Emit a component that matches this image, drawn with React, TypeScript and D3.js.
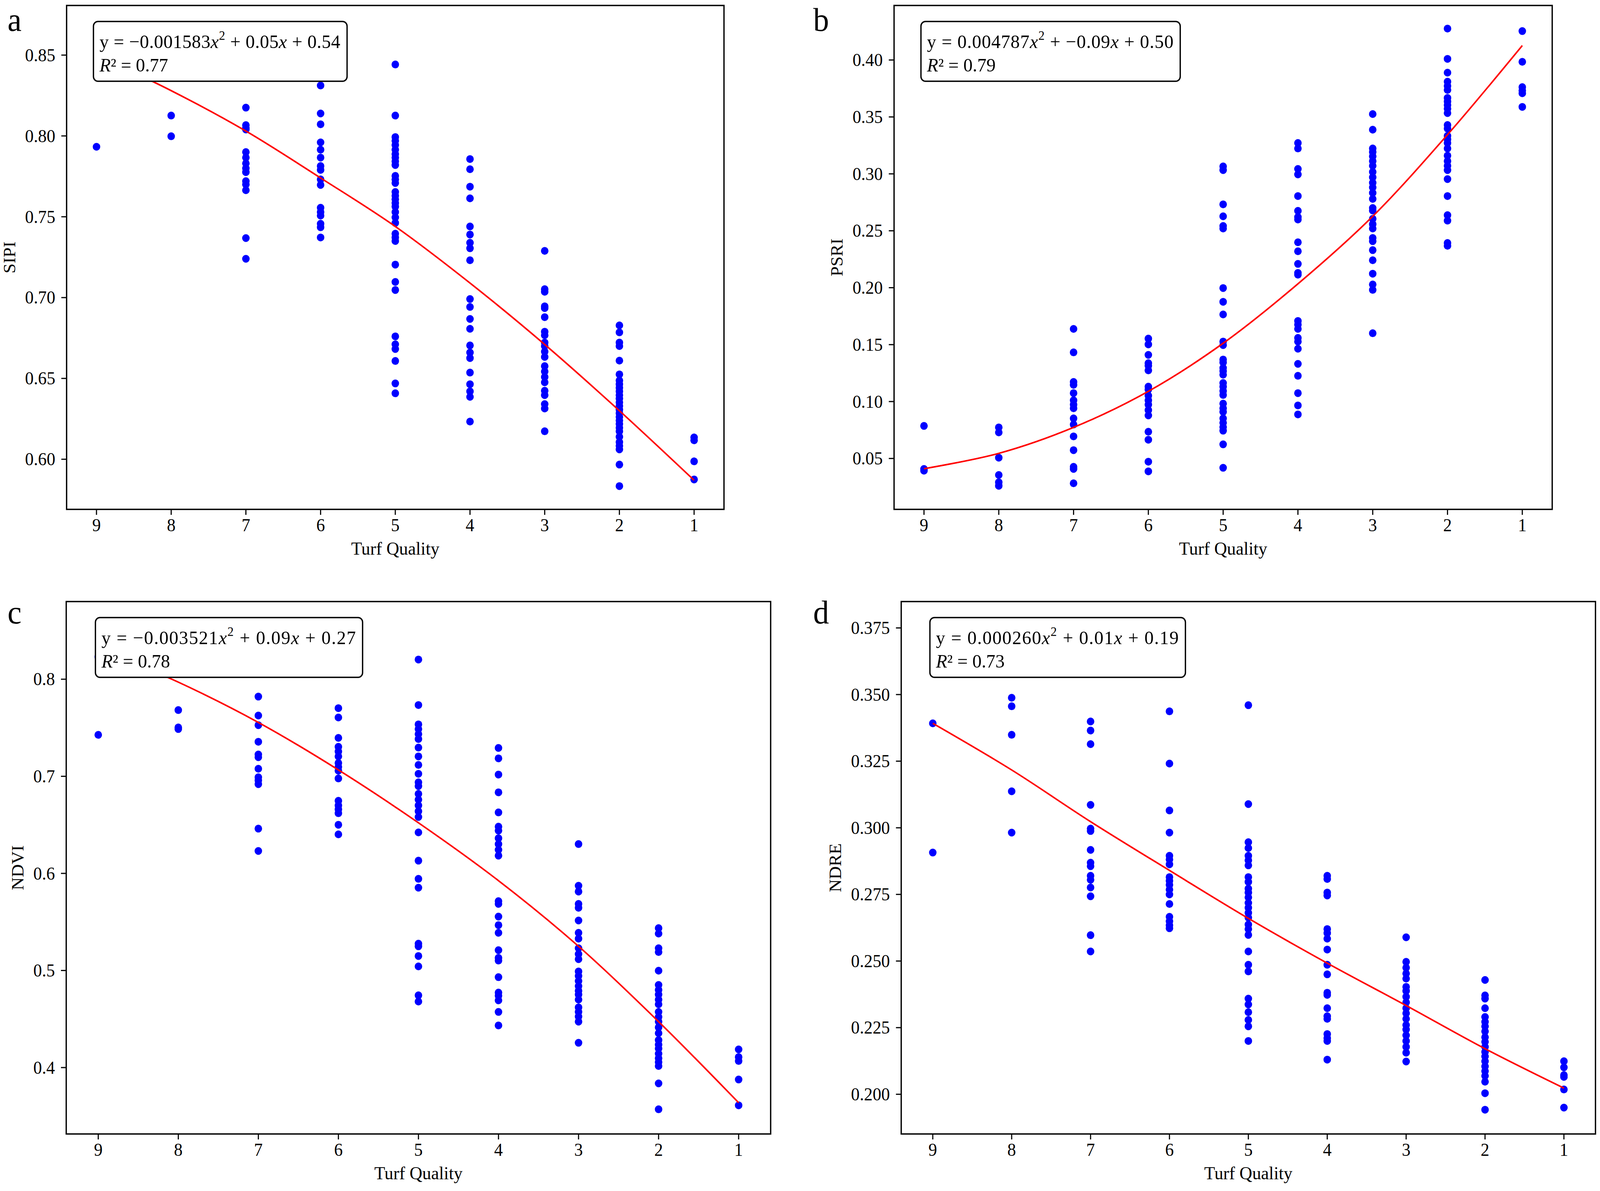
import * as d3 from "d3";
import React from "react";

// turf quality classes, shown high to low
const quality = [9, 8, 7, 6, 5, 4, 3, 2, 1];

// SIPI readings per quality class (same order as `quality`)
const sipi: number[][] = [
  [0.7933],
  [0.836, 0.8126, 0.7998],
  [0.8175, 0.8067, 0.805, 0.804, 0.79, 0.7866, 0.783, 0.78, 0.7776, 0.772, 0.77, 0.7664, 0.7368, 0.724],
  [0.8312, 0.8139, 0.8072, 0.796, 0.7915, 0.7866, 0.7814, 0.779, 0.7731, 0.7697, 0.7556, 0.7529, 0.7507, 0.7457, 0.7435, 0.7372],
  [0.8442, 0.8126, 0.7993, 0.797, 0.7944, 0.7915, 0.7888, 0.7866, 0.7843, 0.782, 0.7753, 0.7731, 0.7709, 0.7653, 0.763, 0.7608, 0.7585, 0.7563, 0.7529, 0.7496, 0.7462, 0.7395, 0.7372, 0.735, 0.7204, 0.7097, 0.7047, 0.676, 0.6711, 0.6682, 0.6608, 0.6469, 0.6408],
  [0.7857, 0.7794, 0.7686, 0.7614, 0.744, 0.739, 0.7339, 0.7305, 0.7231, 0.6991, 0.6942, 0.6868, 0.6807, 0.6704, 0.666, 0.6626, 0.6536, 0.6464, 0.642, 0.6386, 0.6233],
  [0.7289, 0.7052, 0.7036, 0.6946, 0.6935, 0.6879, 0.6789, 0.6767, 0.6722, 0.67, 0.6666, 0.6633, 0.6576, 0.6543, 0.6509, 0.6476, 0.6424, 0.6397, 0.6341, 0.6314, 0.6173],
  [0.6828, 0.6785, 0.6722, 0.67, 0.661, 0.6525, 0.6487, 0.6464, 0.6442, 0.642, 0.6397, 0.6375, 0.6352, 0.633, 0.6307, 0.6285, 0.6262, 0.624, 0.6218, 0.6195, 0.6173, 0.6139, 0.6106, 0.6083, 0.6061, 0.5967, 0.5834],
  [0.6135, 0.6117, 0.5987, 0.5875],
];
const sipiFit = [0.85, 0.828, 0.803, 0.774, 0.744, 0.709, 0.671, 0.63, 0.587];
const sipiTicks = [0.6, 0.65, 0.7, 0.75, 0.8, 0.85];

const psri: number[][] = [
  [0.0786, 0.0408, 0.0393],
  [0.0773, 0.0729, 0.0507, 0.0355, 0.0291, 0.026],
  [0.1638, 0.1432, 0.1172, 0.1147, 0.1074, 0.1011, 0.0973, 0.0941, 0.0852, 0.0798, 0.0694, 0.0573, 0.0427, 0.0408, 0.0282],
  [0.1553, 0.1502, 0.141, 0.1337, 0.1315, 0.1274, 0.1131, 0.1106, 0.1052, 0.1011, 0.0973, 0.0925, 0.0878, 0.0735, 0.0665, 0.0472, 0.0387],
  [0.3065, 0.3033, 0.2732, 0.2627, 0.2542, 0.252, 0.1997, 0.1876, 0.1765, 0.1527, 0.1496, 0.1369, 0.1344, 0.1296, 0.1268, 0.1236, 0.1163, 0.1131, 0.1093, 0.1058, 0.0982, 0.0941, 0.0909, 0.0852, 0.0814, 0.0776, 0.0744, 0.0624, 0.0418],
  [0.3271, 0.3223, 0.3043, 0.2995, 0.2805, 0.2675, 0.2621, 0.2599, 0.2399, 0.232, 0.2209, 0.213, 0.2114, 0.1708, 0.1676, 0.1638, 0.1559, 0.1527, 0.1464, 0.1331, 0.1226, 0.1074, 0.0966, 0.0887],
  [0.3525, 0.3388, 0.3223, 0.3192, 0.3154, 0.3112, 0.3071, 0.3017, 0.297, 0.2922, 0.2881, 0.2833, 0.278, 0.27, 0.2678, 0.2605, 0.2558, 0.252, 0.2437, 0.2409, 0.233, 0.2241, 0.2123, 0.2028, 0.1981, 0.16],
  [0.4276, 0.401, 0.3889, 0.381, 0.3772, 0.3737, 0.3667, 0.3635, 0.3604, 0.3572, 0.3534, 0.3429, 0.3398, 0.3334, 0.3303, 0.3271, 0.3223, 0.316, 0.3112, 0.3071, 0.3033, 0.2954, 0.2805, 0.2637, 0.2589, 0.2393, 0.2368],
  [0.4254, 0.3984, 0.3762, 0.3731, 0.3708, 0.3588],
];
const psriFit = [0.041, 0.0545, 0.0773, 0.109, 0.1512, 0.2034, 0.2627, 0.3344, 0.4127];
const psriTicks = [0.05, 0.1, 0.15, 0.2, 0.25, 0.3, 0.35, 0.4];

const ndvi: number[][] = [
  [0.823, 0.7427],
  [0.7682, 0.7503, 0.7487],
  [0.7821, 0.7626, 0.7527, 0.7356, 0.7225, 0.7197, 0.7078, 0.699, 0.6958, 0.6919, 0.6461, 0.6231],
  [0.7702, 0.7606, 0.7396, 0.7304, 0.7256, 0.7205, 0.7137, 0.7097, 0.7058, 0.6978, 0.6748, 0.67, 0.666, 0.662, 0.6501, 0.6402],
  [0.8203, 0.7734, 0.7535, 0.7487, 0.7435, 0.7384, 0.7296, 0.7205, 0.7117, 0.7026, 0.6938, 0.6899, 0.6819, 0.676, 0.67, 0.664, 0.6581, 0.6422, 0.6131, 0.5944, 0.5853, 0.5276, 0.5249, 0.5149, 0.5042, 0.4744, 0.468],
  [0.7292, 0.7185, 0.7018, 0.6835, 0.6628, 0.6481, 0.6441, 0.6362, 0.6302, 0.6243, 0.6183, 0.5714, 0.5686, 0.5555, 0.5467, 0.5388, 0.5209, 0.513, 0.5102, 0.4931, 0.4772, 0.474, 0.4692, 0.4573, 0.4434],
  [0.6302, 0.5873, 0.5813, 0.5686, 0.5646, 0.5515, 0.5388, 0.5328, 0.5229, 0.5169, 0.5117, 0.499, 0.4943, 0.4891, 0.4839, 0.4791, 0.4752, 0.47, 0.462, 0.4573, 0.4525, 0.4473, 0.4255],
  [0.5436, 0.538, 0.5229, 0.519, 0.4998, 0.4851, 0.48, 0.4752, 0.47, 0.4652, 0.4573, 0.4521, 0.4473, 0.4414, 0.4354, 0.4283, 0.4235, 0.4195, 0.4143, 0.4096, 0.4056, 0.4016, 0.3837, 0.357],
  [0.4187, 0.4108, 0.4068, 0.3877, 0.3611],
];
const ndviFit = [0.832, 0.797, 0.7555, 0.7066, 0.6521, 0.5925, 0.5249, 0.4473, 0.3638];
const ndviTicks = [0.4, 0.5, 0.6, 0.7, 0.8];

const ndre: number[][] = [
  [0.3392, 0.2907],
  [0.3488, 0.3456, 0.3349, 0.3137, 0.2982],
  [0.3399, 0.3365, 0.3314, 0.3086, 0.2997, 0.2988, 0.2917, 0.2869, 0.2856, 0.282, 0.2805, 0.2776, 0.2743, 0.2597, 0.2536],
  [0.3437, 0.3241, 0.3065, 0.2982, 0.2895, 0.2881, 0.2863, 0.2815, 0.2801, 0.2786, 0.2768, 0.275, 0.2714, 0.2666, 0.2649, 0.2634, 0.2623],
  [0.346, 0.3089, 0.2946, 0.2924, 0.2895, 0.2878, 0.2859, 0.2815, 0.2797, 0.2772, 0.2757, 0.2739, 0.2718, 0.27, 0.2681, 0.2663, 0.2637, 0.262, 0.2598, 0.2536, 0.2486, 0.2461, 0.2359, 0.2337, 0.2308, 0.2279, 0.2255, 0.22],
  [0.282, 0.2808, 0.2757, 0.2746, 0.262, 0.2605, 0.2584, 0.2543, 0.2486, 0.245, 0.2381, 0.2373, 0.2323, 0.2293, 0.2283, 0.2226, 0.2211, 0.22, 0.213],
  [0.2589, 0.2497, 0.2475, 0.2453, 0.2434, 0.2403, 0.2388, 0.2366, 0.2345, 0.2323, 0.2304, 0.2283, 0.226, 0.2243, 0.2221, 0.22, 0.2178, 0.2156, 0.2123],
  [0.2429, 0.2371, 0.2359, 0.2323, 0.229, 0.2272, 0.2255, 0.2236, 0.2214, 0.2197, 0.2178, 0.2159, 0.2142, 0.2124, 0.2105, 0.2087, 0.2069, 0.2047, 0.2004, 0.1942],
  [0.2124, 0.2101, 0.2072, 0.2065, 0.2018, 0.195],
];
const ndreFit = [0.3392, 0.3217, 0.3023, 0.284, 0.266, 0.2492, 0.2333, 0.2171, 0.2023];
const ndreTicks = [0.2, 0.225, 0.25, 0.275, 0.3, 0.325, 0.35, 0.375];

const FONT = "'Liberation Serif', 'Times New Roman', serif";
const W = 4252;
const H = 3049;

type Panel = {
  letter: string;
  yLabel: string;
  values: number[][];
  fit: number[];
  ticks: number[];
  fmt: string;
  yDomain: [number, number];
  frame: { l: number; r: number; t: number; b: number };
  letterPos: [number, number];
  eqWidth: number;
  coefA: string;
  coefB: string;
  coefC: string;
  r2: string;
};

const panels: Panel[] = [
  { letter: "a", yLabel: "SIPI", values: sipi, fit: sipiFit, ticks: sipiTicks, fmt: ".2f",
    yDomain: [0.569, 0.8807], frame: { l: 177, r: 1924, t: 14, b: 1304 }, letterPos: [20, 79], eqWidth: 640,
    coefA: "\u22120.001583", coefB: "0.05", coefC: "0.54", r2: "0.77" },
  { letter: "b", yLabel: "PSRI", values: psri, fit: psriFit, ticks: psriTicks, fmt: ".2f",
    yDomain: [0.0053, 0.4479], frame: { l: 2376, r: 4125, t: 14, b: 1304 }, letterPos: [2161, 79], eqWidth: 655,
    coefA: "0.004787", coefB: "\u22120.09", coefC: "0.50", r2: "0.79" },
  { letter: "c", yLabel: "NDVI", values: ndvi, fit: ndviFit, ticks: ndviTicks, fmt: ".1f",
    yDomain: [0.3316, 0.88], frame: { l: 176, r: 2048, t: 1540, b: 2903 }, letterPos: [20, 1596], eqWidth: 676,
    coefA: "\u22120.003521", coefB: "0.09", coefC: "0.27", r2: "0.78" },
  { letter: "d", yLabel: "NDRE", values: ndre, fit: ndreFit, ticks: ndreTicks, fmt: ".3f",
    yDomain: [0.1851, 0.3849], frame: { l: 2395, r: 4240, t: 1540, b: 2903 }, letterPos: [2161, 1596], eqWidth: 645,
    coefA: "0.000260", coefB: "0.01", coefC: "0.19", r2: "0.73" },
];

const tickFont = 46;

function ScatterPanel({ p }: { p: Panel }) {
  const { l, r, t, b } = p.frame;
  const x = d3.scaleLinear().domain([9.4, 0.6]).range([l, r]);
  const y = d3.scaleLinear().domain(p.yDomain).range([b, t]);
  const fmt = d3.format(p.fmt);
  const line = d3
    .line<number>()
    .x((_, i) => x(quality[i]))
    .y((v) => y(v))
    .curve(d3.curveCatmullRom);

  // rough width of the widest tick label, to park the y label beside it
  const tickLabelWidth = d3.max(p.ticks, (v) => fmt(v).length * 0.5 - 0.25)! * tickFont;
  const yLabelX = l - 30 - tickLabelWidth - 26;

  const boxL = l + 0.05 * (r - l) - 16;
  const boxT = t + 41;
  const boxW = p.eqWidth + 34;
  const boxH = 153;

  return (
    <g>
      <text x={p.letterPos[0]} y={p.letterPos[1]} fontSize={84} fontFamily={FONT}>
        {p.letter}
      </text>

      {p.values.map((col, i) =>
        col.map((v, j) => (
          <circle key={`${i}-${j}`} cx={x(quality[i])} cy={y(v)} r={10} fill="#0000ff" />
        ))
      )}

      <path d={line(p.fit)!} fill="none" stroke="#ff0000" strokeWidth={4} />

      <rect x={l} y={t} width={r - l} height={b - t} fill="none" stroke="#000" strokeWidth={3.5} />

      {quality.map((q) => (
        <g key={q}>
          <line x1={x(q)} x2={x(q)} y1={b} y2={b + 14} stroke="#000" strokeWidth={3} />
          <text x={x(q)} y={b + 56} textAnchor="middle" fontSize={tickFont} fontFamily={FONT}>
            {q}
          </text>
        </g>
      ))}
      {p.ticks.map((v) => (
        <g key={v}>
          <line x1={l - 14} x2={l} y1={y(v)} y2={y(v)} stroke="#000" strokeWidth={3} />
          <text x={l - 30} y={y(v)} dy="0.34em" textAnchor="end" fontSize={tickFont} fontFamily={FONT}>
            {fmt(v)}
          </text>
        </g>
      ))}

      <text x={(l + r) / 2} y={b + 116} textAnchor="middle" fontSize={47} fontFamily={FONT}>
        Turf Quality
      </text>
      <text
        transform={`translate(${yLabelX},${(t + b) / 2}) rotate(-90)`}
        textAnchor="middle"
        fontSize={46}
        fontFamily={FONT}
      >
        {p.yLabel}
      </text>

      {/* equation box */}
      <rect x={boxL} y={boxT} width={boxW} height={boxH} rx={12} ry={12} fill="#fff" stroke="#000" strokeWidth={3.5} />
      <text
        x={boxL + 16}
        y={boxT + 68}
        fontSize={49}
        fontFamily={FONT}
        textLength={p.eqWidth}
        lengthAdjust="spacing"
      >
        <tspan>y = {p.coefA}</tspan>
        <tspan fontStyle="italic">x</tspan>
        <tspan fontSize={33} dy={-21}>2</tspan>
        <tspan dy={21}> + {p.coefB}</tspan>
        <tspan fontStyle="italic">x</tspan>
        <tspan> + {p.coefC}</tspan>
      </text>
      <text x={boxL + 16} y={boxT + 128} fontSize={49} fontFamily={FONT}>
        <tspan fontStyle="italic">R</tspan>
        <tspan>{"\u00b2"} = {p.r2}</tspan>
      </text>
    </g>
  );
}

export default function App() {
  return (
    <svg
      viewBox={`0 0 ${W} ${H}`}
      preserveAspectRatio="none"
      style={{ position: "fixed", left: 0, top: 0, width: "100vw", height: "100vh", background: "#fff" }}
    >
      <rect width={W} height={H} fill="#fff" />
      {panels.map((p) => (
        <ScatterPanel key={p.letter} p={p} />
      ))}
    </svg>
  );
}
